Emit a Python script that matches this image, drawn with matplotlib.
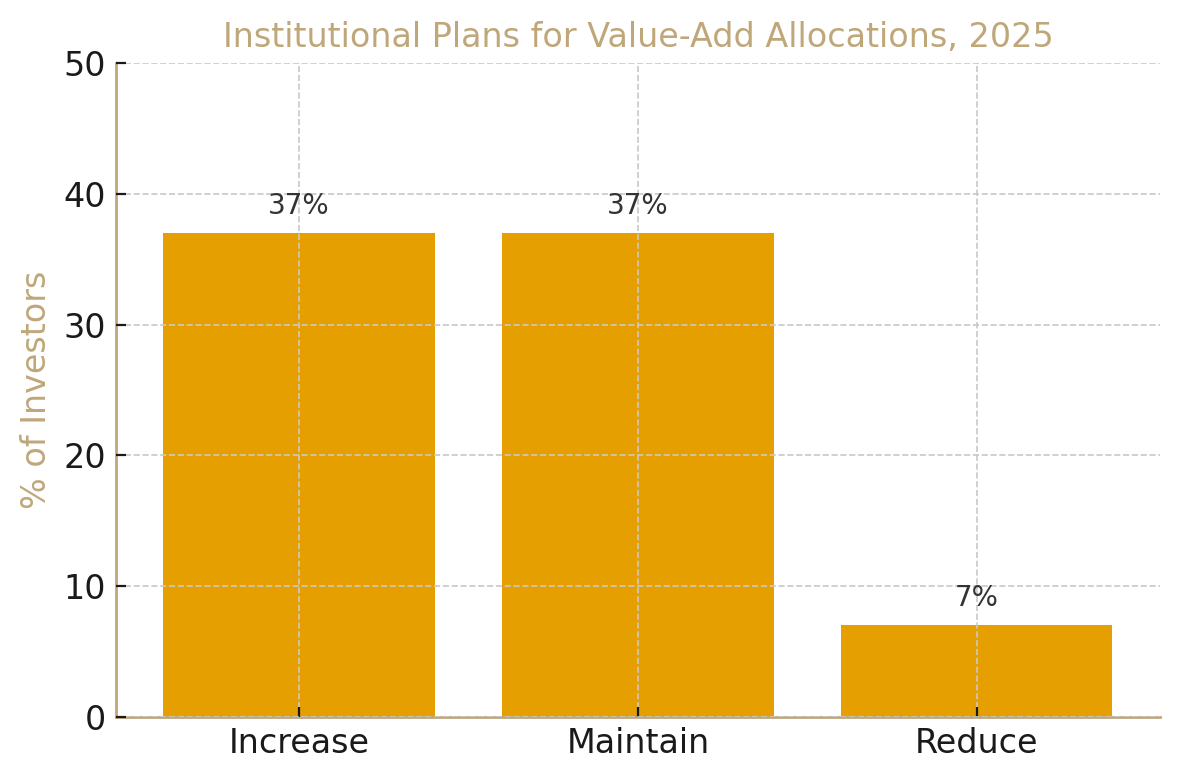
import matplotlib.pyplot as plt

categories = ['Increase', 'Maintain', 'Reduce']
values = [37, 37, 7]
labels = ['37%', '37%', '7%']

tan = '#BFA77A'

fig, ax = plt.subplots(figsize=(5.9, 3.9), dpi=200)
fig.subplots_adjust(left=0.0983, right=0.983, bottom=0.0808, top=0.919)

ax.bar(categories, values, color='#E69F00', width=0.8, zorder=1)

for i, (v, lab) in enumerate(zip(values, labels)):
    ax.text(i, v + 1, lab, ha='center', va='bottom', fontsize=10, color='#333333', zorder=3)

ax.set_ylim(0, 50)
ax.set_title('Institutional Plans for Value-Add Allocations, 2025', fontsize=12, color=tan)
ax.set_ylabel('% of Investors', fontsize=12, color=tan)

# grid sits on top of the bars like in the original
ax.set_axisbelow(False)
ax.grid(True, linestyle='--', color='#c8c8c8', linewidth=0.6, zorder=2)

for s in ['top', 'right']:
    ax.spines[s].set_visible(False)
for s in ['left', 'bottom']:
    ax.spines[s].set_color(tan)
    ax.spines[s].set_linewidth(1.0)

ax.tick_params(axis='both', direction='in', labelsize=12, labelcolor='#1a1a1a', color='#1a1a1a')

plt.savefig('out.png', dpi=200)
